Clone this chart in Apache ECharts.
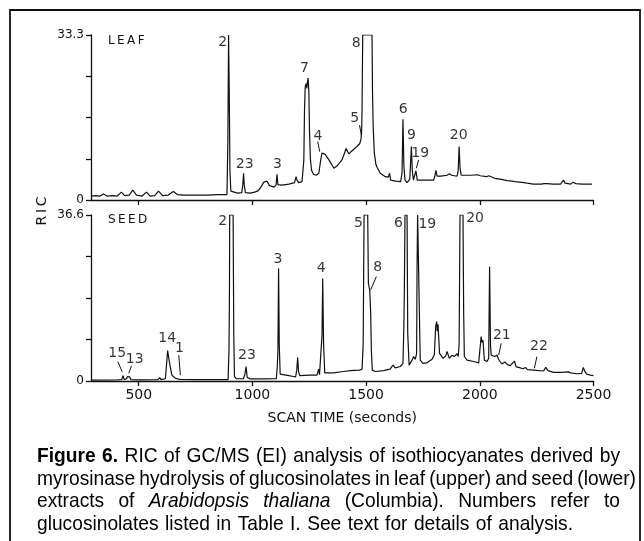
<!DOCTYPE html>
<html><head><meta charset="utf-8">
<script src="https://cdn.jsdelivr.net/npm/echarts@6/dist/echarts.min.js"></script>
<style>html,body{margin:0;padding:0;background:#fff}#c{width:644px;height:541px}</style>
</head><body><div id="c"></div>
<script>
// ---------- data ----------
const xTickValues = [500, 1000, 1500, 2000, 2500];
const xMin = 290, xMax = 2500;
const leafMax = 33.3;
const seedMax = 36.6;

const leafTrace = [
[292,0.8],[310,0.9],[330,0.8],[345,1.2],[360,0.8],[385,0.9],[405,0.8],[424,1.6],[438,0.9],[458,1.0],[474,2.0],[490,1.0],[515,0.8],[534,1.6],[550,0.8],[570,0.9],[587,1.8],[605,0.9],[630,1.0],[652,1.7],[670,1.1],[700,1.0],[750,1.0],[800,1.0],[850,1.1],[888,1.1],
[892,12],[895,33.3],[898,22],[901,6],[905,1.8],[912,1.5],[935,1.4],[953,1.5],[958,3.2],[961,5.4],[964,3.0],[969,1.5],[990,1.4],[1010,1.6],[1026,1.9],[1040,2.8],[1050,3.6],[1058,3.4],[1064,3.8],[1075,2.9],[1095,2.6],[1104,3.0],[1108,5.2],[1112,3.1],[1130,3.0],[1160,3.2],[1185,3.5],[1192,4.7],[1196,4.0],[1203,3.5],[1218,3.7],
[1222,3.8],[1226,8],[1229,18],[1232,22.8],[1236,23.5],[1239,22.5],[1242,23.8],[1245,24.6],[1248,22],[1251,14],[1255,8.2],[1260,6.0],[1268,5.2],[1280,5.0],[1292,5.4],[1300,8.0],[1306,9.5],[1311,9.75],[1320,9.2],[1335,8.2],[1348,7.2],[1358,6.4],[1370,6.8],[1385,7.6],[1395,8.2],[1405,9.5],[1412,10.4],[1418,10.0],[1424,9.3],[1435,9.8],[1450,10.4],[1462,10.9],[1472,11.4],[1477,12.2],[1480,13.5],[1482,18],[1485,33.3],[1526,33.3],[1528,22],[1531,14.8],[1536,9.5],[1543,7.2],[1548,6.6],[1562,5.4],[1585,4.7],[1598,4.6],[1603,5.4],[1608,4.0],[1630,3.8],[1652,3.7],[1658,5.5],[1662,16.3],[1666,7],[1671,4.0],[1680,3.5],[1692,4.2],[1699,10.8],[1703,6],[1708,4.0],[1713,4.2],[1719,5.9],[1725,4.0],[1760,4.0],[1797,4.0],[1803,5],[1807,6.0],[1812,4.8],[1830,4.8],[1856,5.0],[1866,5.3],[1870,5.7],[1876,5.0],[1900,4.8],[1905,6],[1909,10.8],[1913,6.5],[1918,5.0],[1960,5.0],[1990,5.1],[1995,5.4],[2002,4.9],[2030,4.7],[2039,4.9],[2046,4.5],[2070,4.3],[2090,4.2],[2120,3.9],[2140,3.8],[2148,4.0],[2155,3.7],[2175,3.6],[2195,3.5],[2200,3.7],[2208,3.4],[2235,3.2],[2270,3.2],[2283,3.3],[2288,3.6],[2294,3.3],[2323,3.2],[2355,3.2],[2363,3.6],[2368,4.0],[2375,3.4],[2400,3.2],[2410,3.6],[2415,3.9],[2422,3.3],[2450,3.2],[2493,3.2]
];

const seedTrace = [
[292,0.2],[400,0.22],[425,0.3],[431,1.2],[436,0.3],[446,0.5],[450,0.95],[455,0.7],[460,0.9],[466,0.3],[500,0.25],[585,0.3],[592,0.75],[598,0.3],[617,0.5],[622,3.5],[627,6.7],[633,6.4],[638,3.2],[646,1.3],[661,0.6],[675,0.4],[680,0.7],[686,0.35],[750,0.3],[850,0.3],[893,0.3],[897,7],[899,20],[900,36.6],[915,36.6],[918,10],[921,0.95],[930,0.5],[960,0.5],[967,1.5],[972,3.2],[977,0.8],[990,0.45],[1050,0.45],[1105,0.5],[1109,3],[1112,6.5],[1115,24.8],[1118,8],[1122,1.5],[1130,1.3],[1160,1.2],[1180,1.0],[1190,0.9],[1195,2.5],[1199,5.2],[1203,2],[1208,1.2],[1250,1.3],[1284,1.3],[1291,2.6],[1295,1.4],[1302,1.8],[1306,10],[1309,22.6],[1313,8],[1318,1.8],[1357,1.8],[1400,2.1],[1431,2.3],[1470,2.4],[1482,2.6],[1487,8],[1491,36.6],[1507,36.6],[1510,21.5],[1516,20],[1520,15],[1523,6.8],[1527,2.4],[1541,2.1],[1577,2.3],[1605,2.6],[1618,3.5],[1628,2.9],[1650,3.2],[1662,3.9],[1666,12],[1668,19.3],[1671,36.6],[1680,36.6],[1683,10.5],[1689,3.5],[1694,3.9],[1702,4.6],[1709,5.4],[1716,4.8],[1722,6],[1724,24.8],[1726.5,36.6],[1734,36.6],[1738,4.6],[1750,3.9],[1768,4.0],[1790,4.8],[1800,5.8],[1806,12],[1810,13.1],[1813,11],[1816,12.5],[1823,6.1],[1838,5.0],[1850,5.5],[1856,6.5],[1866,5.0],[1878,5.7],[1888,5.4],[1900,6.0],[1905,5.4],[1909,8],[1913,36.6],[1926,36.6],[1929,15],[1932,5.4],[1944,4.6],[1973,4.3],[1995,4.0],[2002,4.3],[2006,9.8],[2010,8.5],[2014,9.0],[2020,4.6],[2032,4.3],[2039,5],[2043,25.2],[2047,8],[2050,5.7],[2056,6.0],[2065,5.4],[2076,5.7],[2082,4.8],[2087,5.0],[2097,3.75],[2110,4.2],[2115,4.6],[2122,3.6],[2134,3.4],[2152,4.4],[2160,3.1],[2171,3.0],[2190,2.7],[2200,3.0],[2210,2.5],[2236,2.4],[2280,2.2],[2290,3.0],[2295,3.2],[2300,2.3],[2324,1.9],[2360,1.9],[2390,2.0],[2400,1.8],[2427,1.6],[2448,1.7],[2455,3.0],[2459,3.4],[2463,2],[2470,1.5],[2486,1.3],[2500,1.2]
];

// peak numbers: [text, scan time, RIC]
const leafPeakLabels = [['2',869,31.9],['23',966,7.2],['3',1110,7.2],['7',1229,26.6],['4',1288,12.9],['5',1450,16.5],['8',1456,31.6],['6',1663,18.3],['9',1699,13.1],['19',1738,9.4],['20',1907,13.1]];
const leafLeaders = [[1287,11.8,1296,9.75],[1471,15.1,1479,13.1],[1731,8.1,1721,6.4]];
const seedPeakLabels = [['15',405,6.1],['13',482,4.85],['14',625,9.4],['1',679,7.3],['2',869,35.1],['23',976,5.6],['3',1112,26.9],['4',1302,24.9],['5',1466,34.8],['8',1551,25.1],['6',1642,34.8],['19',1769,34.6],['20',1979,35.9],['21',2097,10.1],['22',2260,7.6]];
const seedLeaders = [[408,4.26,427,2.05],[468,3.37,456,1.7],[676,5.7,683,1.3],[1545,23,1520,20.1],[2094,8.3,2083,5.7],[2251,5.36,2240,2.8]];

const panelNames = ['LEAF', 'SEED'];
const yAxisTitle = 'RIC';
const xAxisTitle = 'SCAN TIME (seconds)';
const captionLines = [
  [['Figure 6.','bold'],['RIC of GC/MS (EI) analysis of isothiocyanates derived by','normal']],
  [['myrosinase hydrolysis of glucosinolates in leaf (upper) and seed (lower)','normal']],
  [['extracts of','normal'],['Arabidopsis thaliana','italic'],['(Columbia). Numbers refer to','normal']],
  [['glucosinolates listed in Table I. See text for details of analysis.','normal']]
];

// ---------- chart ----------
const INK = '#111';
const tickFont = 'DejaVu Sans';
const chart = echarts.init(document.getElementById('c'), null, {renderer:'canvas'});

function xAxisCfg(gi, withLabels) {
  return {
    type:'value', gridIndex:gi, min:xMin, max:xMax,
    axisLine:{show:true, onZero:false, lineStyle:{color:INK, width:1.3}},
    axisTick:{show:true, inside:false, length:5, customValues:xTickValues, lineStyle:{color:INK, width:1.3}},
    axisLabel:{show:withLabels, customValues:xTickValues, margin:7, color:INK, fontSize:14, fontFamily:tickFont,
      formatter: v => String(Math.round(v))},
    splitLine:{show:false},
    name: withLabels ? xAxisTitle : '', nameLocation:'middle', nameGap:30,
    nameTextStyle:{color:INK, fontSize:14, fontFamily:tickFont}
  };
}
function yAxisCfg(gi, m) {
  return {
    type:'value', gridIndex:gi, min:0, max:m,
    axisLine:{show:true, onZero:false, lineStyle:{color:INK, width:1.3}},
    axisTick:{show:true, inside:false, length:5, customValues:[0, m/4, m/2, 3*m/4, m], lineStyle:{color:INK, width:1.3}},
    axisLabel:{show:true, customValues:[0, m], margin:7, color:INK, fontSize:12, fontFamily:tickFont,
      formatter: v => (Math.abs(v) < 1e-9 ? '0' : m.toFixed(1))},
    splitLine:{show:false}
  };
}
function traceSeries(gi, data, leaders) {
  return {
    type:'line', xAxisIndex:gi, yAxisIndex:gi, data, showSymbol:false, symbol:'none',
    lineStyle:{color:INK, width:1.2}, clip:true, animation:false, z:3,
    markLine:{silent:true, symbol:['none','none'], animation:false, label:{show:false},
      lineStyle:{color:INK, width:1, type:'solid'},
      data: leaders.map(l => [{coord:[l[0], l[1]]}, {coord:[l[2], l[3]]}])}
  };
}
function labelSeries(gi, labels) {
  return {
    type:'scatter', xAxisIndex:gi, yAxisIndex:gi, symbolSize:1, itemStyle:{color:'rgba(0,0,0,0)'},
    animation:false, silent:true, z:4,
    data: labels.map(l => ({name:l[0], value:[l[1], l[2]]})),
    label:{show:true, position:'inside', formatter:'{b}', color:'#000', fontSize:14, fontFamily:tickFont}
  };
}

// ---------- caption (condensed, justified, word by word) ----------
const capFont = '"Liberation Sans", Arial, sans-serif';
const capSize = 21;
const mctx = document.createElement('canvas').getContext('2d');
function fontStr(s) { return (s === 'italic' ? 'italic ' : '') + (s === 'bold' ? 'bold ' : '') + capSize + 'px ' + capFont; }
function tokens(line) { const out = []; line.forEach(([t, s]) => t.split(' ').filter(Boolean).forEach(w => out.push([w, s]))); return out; }
function measure(w, s) { mctx.font = fontStr(s); return mctx.measureText(w).width; }
const capLeft = 37, capRights = [620, 636, 620, 573], capYs = [456, 479, 501.5, 524], minGap = 4.2;
let capScale = 1;
captionLines.forEach((line, i) => {
  const tk = tokens(line);
  const w = tk.reduce((a, [t, s]) => a + measure(t, s), 0);
  capScale = Math.min(capScale, (capRights[i] - capLeft - minGap * (tk.length - 1)) / w);
});
capScale = Math.max(0.65, capScale);
const captionEls = [];
captionLines.forEach((line, i) => {
  const tk = tokens(line);
  const widths = tk.map(([t, s]) => measure(t, s) * capScale);
  const total = widths.reduce((a, b) => a + b, 0);
  const gap = (capRights[i] - capLeft - total) / (tk.length - 1);
  let x = capLeft;
  tk.forEach(([t, s], k) => {
    captionEls.push({type:'text', x:x, y:capYs[i], scaleX:capScale, scaleY:1, silent:true,
      style:{text:t, font:fontStr(s), fill:'#000', textAlign:'left', verticalAlign:'middle', textVerticalAlign:'middle'}});
    x += widths[k] + gap;
  });
});

const option = {
  backgroundColor:'#fff',
  animation:false,
  grid:[
    {left:91, top:35, width:502.5, height:165},
    {left:91, top:215, width:502.5, height:166}
  ],
  xAxis:[xAxisCfg(0, false), xAxisCfg(1, true)],
  yAxis:[yAxisCfg(0, leafMax), yAxisCfg(1, seedMax)],
  series:[
    traceSeries(0, leafTrace, leafLeaders),
    traceSeries(1, seedTrace, seedLeaders),
    labelSeries(0, leafPeakLabels),
    labelSeries(1, seedPeakLabels)
  ],
  graphic:[
    {type:'rect', silent:true, shape:{x:10, y:10, width:630, height:560},
      style:{fill:'none', stroke:INK, lineWidth:1.8}},
    {type:'text', x:108, y:41, silent:true,
      style:{text:panelNames[0].split('').join('\u2009'), font:'12px "DejaVu Sans"', fill:INK, textAlign:'left', verticalAlign:'middle', textVerticalAlign:'middle'}},
    {type:'text', x:108, y:220, silent:true,
      style:{text:panelNames[1].split('').join('\u2009'), font:'12px "DejaVu Sans"', fill:INK, textAlign:'left', verticalAlign:'middle', textVerticalAlign:'middle'}},
    {type:'text', x:42, y:211, rotation:Math.PI/2, silent:true,
      style:{text:yAxisTitle.split('').join('\u2009'), font:'14px "DejaVu Sans"', fill:INK, textAlign:'center', verticalAlign:'middle', textVerticalAlign:'middle'}}
  ].concat(captionEls)
};
chart.setOption(option);
</script>
</body></html>
